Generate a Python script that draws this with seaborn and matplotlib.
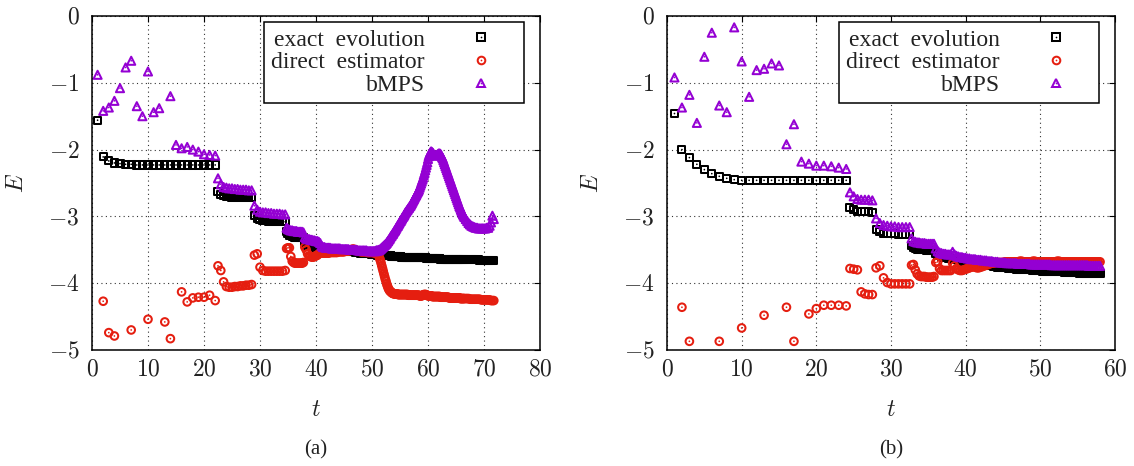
import numpy as np
import pandas as pd
import matplotlib
matplotlib.use("Agg")
import matplotlib.pyplot as plt
from matplotlib.lines import Line2D
from matplotlib.ticker import FixedLocator, FuncFormatter
import seaborn as sns

# ---------------------------------------------------------------------------
# Sample times: the time step is refined after every plateau of the evolution
# ---------------------------------------------------------------------------
t_a = np.concatenate([
    np.arange(1, 23, 1.0),          # 1 ... 22
    np.arange(22.5, 29, 0.5),       # 22.5 ... 28.5
    np.arange(29, 35, 0.5),         # 29 ... 34.5
    np.arange(34.75, 38, 0.25),     # 34.75 ... 37.75
    np.arange(38, 50.5, 0.25),      # 38 ... 50.25
    np.arange(50.5, 66.5, 0.125),   # 50.5 ... 66.375
    np.arange(66.5, 72, 0.25),      # 66.5 ... 71.75
])
t_b = np.concatenate([
    np.arange(1, 25, 1.0),          # 1 ... 24
    np.arange(24.5, 28, 0.5),       # 24.5 ... 27.5
    np.arange(28, 33, 0.5),         # 28 ... 32.5
    np.arange(32.75, 36, 0.25),     # 32.75 ... 35.75
    np.arange(36, 58.25, 0.25),     # 36 ... 58
])

nan = np.nan

# ---------------------------------------------------------------------------
# Panel (a)
# ---------------------------------------------------------------------------
exact_a = [
    # t = 1 ... 22
    -1.56, -2.11, -2.17, -2.20, -2.21, -2.22, -2.22, -2.23, -2.23, -2.23, -2.23,
    -2.23, -2.23, -2.23, -2.23, -2.23, -2.23, -2.23, -2.23, -2.23, -2.23, -2.23,
    # t = 22.5 ... 28.5
    -2.63, -2.67, -2.69, -2.70, -2.70, -2.71, -2.71, -2.71, -2.71, -2.72, -2.72, -2.72, -2.72,
    # t = 29 ... 34.5
    -2.98, -3.03, -3.05, -3.06, -3.06, -3.07, -3.07, -3.07, -3.08, -3.08, -3.08, -3.08,
    # t = 34.75 ... 37.75
    -3.23, -3.26, -3.28, -3.29, -3.30, -3.30, -3.31, -3.31, -3.31, -3.32, -3.32, -3.32, -3.32,
    # t = 38 ... 50.25
    -3.38, -3.41, -3.43, -3.44, -3.45, -3.45, -3.46, -3.46,
    -3.47, -3.47, -3.47, -3.48, -3.48, -3.48, -3.48, -3.49,
    -3.49, -3.49, -3.49, -3.50, -3.50, -3.50, -3.50, -3.50,
    -3.51, -3.51, -3.51, -3.51, -3.52, -3.52, -3.52, -3.52,
    -3.53, -3.53, -3.53, -3.53, -3.54, -3.54, -3.54, -3.54,
    -3.55, -3.55, -3.55, -3.55, -3.56, -3.56, -3.56, -3.56,
    -3.57, -3.57,
    # t = 50.5 ... 66.375
    -3.57, -3.57, -3.57, -3.57, -3.58, -3.58, -3.58, -3.58,
    -3.58, -3.58, -3.58, -3.58, -3.58, -3.58, -3.59, -3.59,
    -3.59, -3.59, -3.59, -3.59, -3.59, -3.59, -3.59, -3.59,
    -3.60, -3.60, -3.60, -3.60, -3.60, -3.60, -3.60, -3.60,
    -3.60, -3.60, -3.60, -3.60, -3.60, -3.60, -3.61, -3.61,
    -3.61, -3.61, -3.61, -3.61, -3.61, -3.61, -3.61, -3.61,
    -3.61, -3.61, -3.61, -3.61, -3.61, -3.61, -3.62, -3.62,
    -3.62, -3.62, -3.62, -3.62, -3.62, -3.62, -3.62, -3.62,
    -3.62, -3.62, -3.62, -3.62, -3.62, -3.62, -3.62, -3.62,
    -3.62, -3.62, -3.63, -3.63, -3.63, -3.63, -3.63, -3.63,
    -3.63, -3.63, -3.63, -3.63, -3.63, -3.63, -3.63, -3.63,
    -3.63, -3.63, -3.63, -3.63, -3.63, -3.63, -3.64, -3.64,
    -3.64, -3.64, -3.64, -3.64, -3.64, -3.64, -3.64, -3.64,
    -3.64, -3.64, -3.64, -3.64, -3.64, -3.64, -3.64, -3.64,
    -3.64, -3.64, -3.64, -3.64, -3.64, -3.64, -3.64, -3.64,
    -3.65, -3.65, -3.65, -3.65, -3.65, -3.65, -3.65, -3.65,
    # t = 66.5 ... 71.75
    -3.65, -3.65, -3.65, -3.65, -3.65, -3.65, -3.65, -3.65, -3.65, -3.65, -3.65,
    -3.66, -3.66, -3.66, -3.66, -3.66, -3.66, -3.66, -3.66, -3.66, -3.66, -3.66,
]
direct_a = [
    nan, -4.27, -4.74, -4.79, nan, nan, -4.70, nan, nan, -4.54, nan,
    nan, -4.58, -4.83, nan, -4.13, -4.28, -4.22, -4.21, -4.21, -4.18, -4.26,
    -3.74, -3.81, -3.98, -4.05, -4.06, -4.06, -4.05, -4.05, -4.04, -4.04, -4.03, -4.03, -4.02,
    -3.58, -3.56, -3.76, -3.81, -3.82, -3.82, -3.82, -3.82, -3.82, -3.82, -3.82, -3.81,
    -3.48, -3.47, -3.47, -3.60, -3.67, -3.69, -3.70, -3.70, -3.70, -3.70, -3.70, -3.70, -3.69,
    # t = 38 ... 50.25
    -3.46, -3.50, -3.56, -3.59, -3.60, -3.61, -3.61, -3.60,
    -3.59, -3.58, -3.56, -3.55, -3.55, -3.55, -3.55, -3.55,
    -3.55, -3.55, -3.54, -3.54, -3.54, -3.54, -3.54, -3.54,
    -3.53, -3.53, -3.53, -3.53, -3.53, -3.52, -3.52, -3.52,
    -3.51, -3.50, -3.49, -3.49, -3.50, -3.51, -3.52, -3.52,
    -3.53, -3.53, -3.53, -3.53, -3.53, -3.54, -3.54, -3.54,
    -3.54, -3.54,
    # t = 50.5 ... 66.375
    -3.55, -3.55, -3.55, -3.55, -3.56, -3.57, -3.60, -3.63,
    -3.66, -3.70, -3.74, -3.78, -3.82, -3.86, -3.90, -3.94,
    -3.97, -4.01, -4.04, -4.07, -4.09, -4.11, -4.12, -4.13,
    -4.14, -4.15, -4.15, -4.16, -4.16, -4.16, -4.16, -4.16,
    -4.16, -4.17, -4.17, -4.17, -4.17, -4.17, -4.17, -4.17,
    -4.17, -4.17, -4.17, -4.17, -4.17, -4.17, -4.17, -4.17,
    -4.18, -4.18, -4.18, -4.18, -4.18, -4.18, -4.18, -4.18,
    -4.18, -4.18, -4.18, -4.18, -4.18, -4.18, -4.18, -4.18,
    -4.19, -4.19, -4.19, -4.19, -4.18, -4.18, -4.17, -4.17,
    -4.17, -4.17, -4.18, -4.18, -4.19, -4.19, -4.19, -4.19,
    -4.19, -4.19, -4.20, -4.20, -4.20, -4.20, -4.20, -4.20,
    -4.20, -4.20, -4.20, -4.20, -4.20, -4.20, -4.21, -4.21,
    -4.21, -4.21, -4.21, -4.21, -4.21, -4.21, -4.21, -4.21,
    -4.21, -4.21, -4.22, -4.22, -4.22, -4.22, -4.22, -4.22,
    -4.22, -4.22, -4.22, -4.22, -4.22, -4.22, -4.22, -4.22,
    -4.22, -4.22, -4.23, -4.23, -4.23, -4.23, -4.23, -4.23,
    # t = 66.5 ... 71.75
    -4.23, -4.23, -4.23, -4.23, -4.24, -4.24, -4.24, -4.24, -4.24, -4.24, -4.24,
    -4.24, -4.25, -4.25, -4.25, -4.25, -4.25, -4.25, -4.25, -4.26, -4.26, -4.26,
]
bmps_a = [
    -0.88, -1.42, -1.37, -1.27, -1.08, -0.77, -0.67, -1.35, -1.50, -0.83, -1.44,
    -1.38, nan, -1.20, -1.93, -1.98, -1.96, -2.00, -2.03, -2.07, -2.08, -2.09,
    -2.43, -2.52, -2.56, -2.57, -2.58, -2.58, -2.59, -2.59, -2.60, -2.60, -2.60, -2.61, -2.61,
    -2.84, -2.90, -2.93, -2.94, -2.94, -2.95, -2.95, -2.96, -2.96, -2.96, -2.97, -2.97,
    -3.17, -3.19, -3.20, -3.21, -3.21, -3.22, -3.22, -3.22, -3.23, -3.23, -3.23, -3.23, -3.24,
    # t = 38 ... 50.25
    -3.31, -3.33, -3.34, -3.34, -3.35, -3.35, -3.36, -3.36,
    -3.37, -3.37, -3.38, -3.40, -3.44, -3.46, -3.46, -3.47,
    -3.47, -3.47, -3.47, -3.48, -3.48, -3.48, -3.48, -3.48,
    -3.48, -3.48, -3.49, -3.49, -3.49, -3.49, -3.49, -3.49,
    -3.50, -3.50, -3.50, -3.50, -3.50, -3.50, -3.51, -3.51,
    -3.51, -3.51, -3.51, -3.51, -3.51, -3.52, -3.52, -3.52,
    -3.52, -3.52,
    # t = 50.5 ... 66.375
    -3.52, -3.52, -3.51, -3.51, -3.51, -3.51, -3.50, -3.50,
    -3.49, -3.48, -3.47, -3.46, -3.45, -3.44, -3.43, -3.42,
    -3.41, -3.40, -3.38, -3.37, -3.35, -3.34, -3.32, -3.30,
    -3.29, -3.27, -3.26, -3.24, -3.22, -3.21, -3.19, -3.17,
    -3.15, -3.14, -3.12, -3.10, -3.08, -3.07, -3.05, -3.03,
    -3.01, -3.00, -2.98, -2.96, -2.94, -2.93, -2.91, -2.90,
    -2.88, -2.87, -2.85, -2.84, -2.82, -2.80, -2.78, -2.76,
    -2.74, -2.72, -2.70, -2.68, -2.66, -2.64, -2.62, -2.60,
    -2.57, -2.54, -2.51, -2.48, -2.45, -2.42, -2.38, -2.35,
    -2.31, -2.27, -2.23, -2.19, -2.14, -2.10, -2.07, -2.05,
    -2.03, -2.03, -2.04, -2.05, -2.07, -2.08, -2.09, -2.09,
    -2.08, -2.08, -2.07, -2.06, -2.06, -2.06, -2.07, -2.09,
    -2.11, -2.13, -2.16, -2.19, -2.22, -2.25, -2.28, -2.31,
    -2.34, -2.37, -2.40, -2.43, -2.46, -2.49, -2.52, -2.55,
    -2.58, -2.61, -2.64, -2.67, -2.70, -2.73, -2.76, -2.79,
    -2.82, -2.85, -2.87, -2.90, -2.92, -2.95, -2.97, -2.99,
    # t = 66.5 ... 71.75
    -3.01, -3.04, -3.07, -3.10, -3.12, -3.14, -3.15, -3.16, -3.17, -3.17, -3.18,
    -3.18, -3.18, -3.18, -3.18, -3.18, -3.17, -3.17, -3.14, -3.09, -2.99, -3.04,
]

# ---------------------------------------------------------------------------
# Panel (b)
# ---------------------------------------------------------------------------
exact_b = [
    -1.46, -2.00, -2.12, -2.22, -2.30, -2.36, -2.40, -2.43, -2.45, -2.46, -2.46, -2.46,
    -2.46, -2.46, -2.46, -2.46, -2.46, -2.46, -2.46, -2.46, -2.46, -2.46, -2.46, -2.46,
    -2.86, -2.90, -2.92, -2.93, -2.93, -2.93, -2.94,
    -3.20, -3.23, -3.25, -3.26, -3.26, -3.26, -3.27, -3.27, -3.27, -3.27,
    -3.44, -3.47, -3.48, -3.49, -3.49, -3.50, -3.50, -3.50, -3.51, -3.51, -3.51, -3.51, -3.51,
    -3.56, -3.58, -3.59, -3.60, -3.61, -3.62, -3.62, -3.63,
    -3.63, -3.64, -3.64, -3.65, -3.65, -3.66, -3.66, -3.67,
    -3.67, -3.68, -3.68, -3.69, -3.69, -3.70, -3.70, -3.71,
    -3.71, -3.72, -3.72, -3.73, -3.73, -3.74, -3.74, -3.75,
    -3.75, -3.76, -3.76, -3.76, -3.77, -3.77, -3.77, -3.78,
    -3.78, -3.78, -3.78, -3.79, -3.79, -3.79, -3.79, -3.80,
    -3.80, -3.80, -3.80, -3.80, -3.81, -3.81, -3.81, -3.81,
    -3.81, -3.82, -3.82, -3.82, -3.82, -3.82, -3.82, -3.83,
    -3.83, -3.83, -3.83, -3.83, -3.83, -3.84, -3.84, -3.84,
    -3.84, -3.84, -3.84, -3.84, -3.84, -3.85, -3.85, -3.85,
    -3.85, -3.85, -3.85, -3.85, -3.85, -3.85, -3.86, -3.86,
    -3.86,
]
direct_b = [
    nan, -4.36, -4.87, nan, nan, nan, -4.87, nan, nan, -4.67, nan, nan,
    -4.48, nan, nan, -4.36, -4.87, nan, -4.46, -4.38, -4.33, -4.33, -4.33, -4.34,
    -3.78, -3.79, -3.80, -4.13, -4.16, -4.17, -4.17,
    -3.77, -3.74, -3.92, -3.99, -4.01, -4.01, -4.01, -4.01, -4.01, -4.01,
    -3.73, -3.72, -3.80, -3.86, -3.89, -3.90, -3.90, -3.90, -3.91, -3.91, -3.91, -3.91, -3.90,
    -3.69, -3.68, -3.78, -3.81, -3.81, -3.81, -3.81, -3.81,
    -3.81, -3.70, -3.74, -3.78, -3.80, -3.81, -3.81, -3.80,
    -3.79, -3.78, -3.77, -3.76, -3.75, -3.76, -3.77, -3.77,
    -3.76, -3.75, -3.74, -3.73, -3.72, -3.71, -3.70, -3.70,
    -3.69, -3.69, -3.69, -3.69, -3.69, -3.68, -3.68, -3.68,
    -3.68, -3.68, -3.68, -3.68, -3.68, -3.67, -3.67, -3.68,
    -3.68, -3.68, -3.68, -3.68, -3.67, -3.67, -3.68, -3.68,
    -3.68, -3.68, -3.68, -3.68, -3.68, -3.68, -3.68, -3.68,
    -3.68, -3.67, -3.67, -3.68, -3.68, -3.68, -3.68, -3.68,
    -3.68, -3.68, -3.68, -3.68, -3.68, -3.68, -3.68, -3.68,
    -3.68, -3.68, -3.68, -3.68, -3.68, -3.68, -3.68, -3.68,
    -3.68,
]
bmps_b = [
    -0.92, -1.37, -1.18, -1.60, -0.61, -0.25, -1.34, -1.44, -0.17, -0.68, -1.21, -0.81,
    -0.79, -0.71, -0.74, -1.92, -1.62, -2.18, -2.21, -2.24, -2.24, -2.25, -2.27, -2.29,
    -2.64, -2.70, -2.74, -2.75, -2.75, -2.75, -2.76,
    -3.03, -3.10, -3.13, -3.14, -3.15, -3.15, -3.16, -3.16, -3.16, -3.16,
    -3.33, -3.37, -3.38, -3.39, -3.39, -3.40, -3.40, -3.40, -3.41, -3.41, -3.41, -3.41, -3.41,
    -3.48, -3.52, -3.54, -3.55, -3.56, -3.56, -3.57, -3.57,
    -3.57, -3.53, -3.57, -3.59, -3.60, -3.61, -3.61, -3.62,
    -3.62, -3.63, -3.63, -3.64, -3.64, -3.64, -3.65, -3.65,
    -3.65, -3.66, -3.66, -3.66, -3.67, -3.67, -3.67, -3.68,
    -3.68, -3.68, -3.69, -3.69, -3.69, -3.69, -3.70, -3.70,
    -3.70, -3.70, -3.70, -3.70, -3.71, -3.71, -3.71, -3.71,
    -3.71, -3.71, -3.71, -3.72, -3.72, -3.72, -3.72, -3.72,
    -3.72, -3.72, -3.72, -3.72, -3.72, -3.72, -3.73, -3.73,
    -3.73, -3.73, -3.73, -3.73, -3.73, -3.73, -3.73, -3.73,
    -3.73, -3.73, -3.73, -3.73, -3.73, -3.73, -3.73, -3.73,
    -3.73, -3.73, -3.74, -3.74, -3.74, -3.74, -3.74, -3.74,
    -3.74,
]

methods = ["exact  evolution", "direct  estimator", "bMPS"]
colors = {"exact  evolution": "#000000",
          "direct  estimator": "#e51e10",
          "bMPS": "#9400d3"}
markers = {"exact  evolution": "s", "direct  estimator": "o", "bMPS": "^"}
sizes = {"exact  evolution": 26, "direct  estimator": 30, "bMPS": 34}

x_ticks_a = [0, 10, 20, 30, 40, 50, 60, 70, 80]
x_ticks_b = [0, 10, 20, 30, 40, 50, 60]
y_ticks = [0, -1, -2, -3, -4, -5]

# ---------------------------------------------------------------------------
sns.set_style("white")
FS = 17
plt.rcParams.update({
    "font.family": ["Liberation Serif", "DejaVu Serif"],
    "mathtext.fontset": "cm",
    "xtick.direction": "in",
    "ytick.direction": "in",
    "xtick.top": True,
    "ytick.right": True,
})

EDGE_W = 1.45
DOT_S = 1.5

W, H = 1134, 466
fig = plt.figure(figsize=(W / 100, H / 100), dpi=100)
ax_a = fig.add_axes([92 / W, 116 / H, 448 / W, 334 / H])
ax_b = fig.add_axes([667 / W, 116 / H, 448 / W, 334 / H])


def draw_panel(ax, t, series, xticks, tag):
    for name, vals in zip(methods, series):
        d = pd.DataFrame({"t": t, "E": vals}).dropna()
        c = colors[name]
        sns.scatterplot(data=d, x="t", y="E", ax=ax, marker=markers[name],
                        s=sizes[name], color=c, facecolor="none", edgecolor=c,
                        linewidth=EDGE_W, legend=False)
        sns.scatterplot(data=d, x="t", y="E", ax=ax, marker="o", s=DOT_S,
                        color=c, edgecolor="none", linewidth=0, legend=False)

    ax.set_xlim(xticks[0], xticks[-1])
    ax.set_ylim(-5, 0)
    ax.xaxis.set_major_locator(FixedLocator(xticks))
    ax.yaxis.set_major_locator(FixedLocator(y_ticks))
    fmt = FuncFormatter(lambda v, p: f"${v:g}$")
    ax.xaxis.set_major_formatter(fmt)
    ax.yaxis.set_major_formatter(fmt)
    ax.tick_params(which="major", length=4.5, width=0.8, labelsize=FS,
                   color="black", labelcolor="#222222")
    ax.tick_params(axis="x", pad=7)
    ax.tick_params(axis="y", pad=9)
    ax.grid(True, color="#333333", linestyle=(0, (1, 3)), linewidth=0.8)
    ax.set_axisbelow(True)
    for sp in ax.spines.values():
        sp.set_color("black")
        sp.set_linewidth(1.1)

    ax.set_xlabel("$t$", fontsize=FS, color="#222222")
    ax.set_ylabel("$E$", fontsize=FS, color="#222222")
    ax.xaxis.set_label_coords(0.5, -0.15)
    ax.yaxis.set_label_coords(-0.142, 0.5)
    ax.text(0.5, -0.30, tag, transform=ax.transAxes, ha="center", va="center",
            fontsize=15, color="#222222")

    handles = []
    for name in methods:
        c = colors[name]
        hollow = Line2D([], [], ls="none", marker=markers[name],
                        markersize=np.sqrt(sizes[name]), markerfacecolor="none",
                        markeredgecolor=c, markeredgewidth=EDGE_W)
        dot = Line2D([], [], ls="none", marker="o", markersize=np.sqrt(DOT_S),
                     markerfacecolor=c, markeredgecolor="none")
        handles.append((hollow, dot))
    leg = ax.legend(handles, methods, loc="upper right",
                    bbox_to_anchor=(0.964, 0.982), borderaxespad=0,
                    markerfirst=False, fontsize=FS, frameon=True, fancybox=False,
                    framealpha=1, edgecolor="black", handlelength=3.0,
                    handletextpad=0.9, borderpad=0.3, labelspacing=0.05,
                    numpoints=1)
    leg.get_frame().set_linewidth(1.1)
    for txt in leg.get_texts():
        txt.set_color("#222222")


draw_panel(ax_a, t_a, [exact_a, direct_a, bmps_a], x_ticks_a, "(a)")
draw_panel(ax_b, t_b, [exact_b, direct_b, bmps_b], x_ticks_b, "(b)")

fig.savefig("out.png", dpi=100, facecolor="white")
